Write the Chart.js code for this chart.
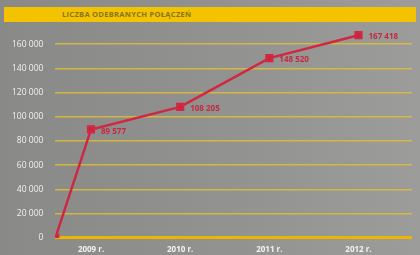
<!DOCTYPE html>
<html>
<head>
<meta charset="utf-8">
<script src="https://cdn.jsdelivr.net/npm/chart.js@4"></script>
<style>
html, body { margin: 0; padding: 0; }
body { width: 420px; height: 255px; overflow: hidden; background: linear-gradient(90deg, #898988 0%, #91918f 50%, #9c9c9a 100%); font-family: "Open Sans", sans-serif; }
#wrap { position: relative; width: 420px; height: 255px; }
#titleBar { position: absolute; left: 4px; top: 7px; width: 412px; height: 15px; background: #f4c300; }
#titleBar span { position: absolute; left: 58px; top: 2px; font-size: 7.5px; font-weight: bold; color: #857520; letter-spacing: 0.3px; }
canvas { position: absolute; left: 0; top: 0; }
</style>
</head>
<body>
<div id="wrap">
	<div id="titleBar"><span>LICZBA ODEBRANYCH POŁĄCZEŃ</span></div>
	<canvas id="chart" width="420" height="255"></canvas>
</div>
<script>
var years = [2008.6, 2009, 2010, 2011, 2012]
var calls = [0, 89577, 108205, 148520, 167418]
var pointLabels = ['', '89 577', '108 205', '148 520', '167 418']
var xTicks = [2009, 2010, 2011, 2012]
var yTicks = [0, 20000, 40000, 60000, 80000, 100000, 120000, 140000, 160000]

function fmt(v){
	return v.toString().replace(/\B(?=(\d{3})+(?!\d))/g, ' ');
}

var valueLabels = {
	id: 'valueLabels',
	afterDatasetsDraw(chart){
		var ctx = chart.ctx;
		var meta = chart.getDatasetMeta(0);
		ctx.save();
		ctx.font = 'bold 8px "Open Sans"';
		ctx.fillStyle = '#c42a40';
		ctx.textBaseline = 'middle';
		meta.data.forEach(function(pt, i){
			if (pointLabels[i])
				ctx.fillText(pointLabels[i], pt.x + 10, pt.y + 2);
		});
		ctx.restore();
	}
}

new Chart(document.getElementById('chart'), {
	type: 'line',
	data: {
		datasets: [{
			data: years.map(function(y, i){ return {x: y, y: calls[i]}; }),
			borderColor: '#cf2840',
			backgroundColor: '#d3203a',
			borderWidth: 2.5,
			pointStyle: 'rect',
			pointRadius: 4,
			tension: 0
		}]
	},
	options: {
		responsive: false,
		animation: false,
		layout: { padding: { top: 26, right: 8, left: 0, bottom: 0 } },
		plugins: { legend: { display: false }, tooltip: { enabled: false } },
		scales: {
			x: {
				type: 'linear',
				min: 2008.6,
				max: 2012.6,
				afterBuildTicks: function(axis){ axis.ticks = xTicks.map(function(v){ return {value: v}; }); },
				grid: { display: false },
				border: { display: false },
				ticks: {
					color: '#f2f2f2',
					font: { family: 'Open Sans', size: 8, weight: 'bold' },
					padding: -1,
					callback: function(v){ return v + ' r.'; }
				}
			},
			y: {
				min: 0,
				max: 175000,
				afterBuildTicks: function(axis){ axis.ticks = yTicks.map(function(v){ return {value: v}; }); },
				border: { display: false },
				grid: {
					drawTicks: false,
					color: function(c){ return c.tick.value === 0 ? '#eeb400' : 'rgba(228,192,45,0.8)'; },
					lineWidth: function(c){ return c.tick.value === 0 ? 3 : 1.5; }
				},
				ticks: {
					color: '#f2f2f2',
					font: { family: 'Open Sans', size: 8.5 },
					padding: 12,
					callback: function(v){ return fmt(v); }
				}
			}
		}
	},
	plugins: [valueLabels]
});
</script>
</body>
</html>
